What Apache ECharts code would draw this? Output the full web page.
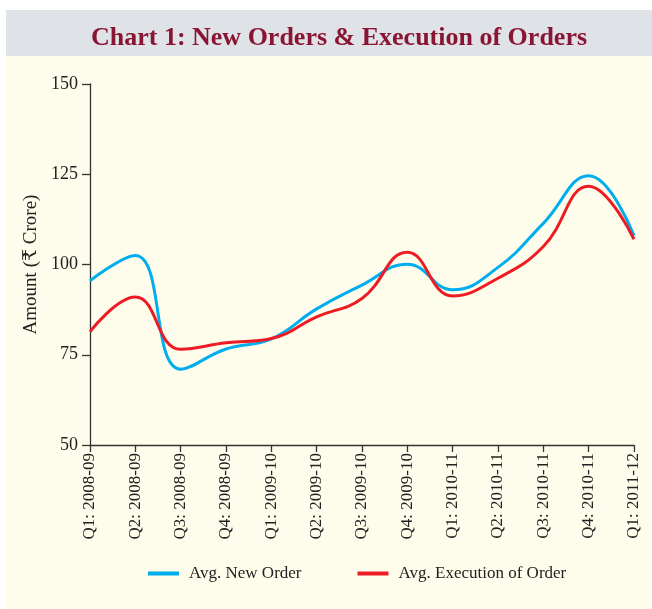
<!DOCTYPE html>
<html>
<head>
<meta charset="utf-8">
<script src="https://cdn.jsdelivr.net/npm/echarts@6/dist/echarts.min.js"></script>
<style>
  html, body { margin: 0; padding: 0; background: #fff; }
  #chart { width: 652px; height: 609px; }
</style>
</head>
<body>
<div id="chart"></div>
<script>
// quarters
const categories = [
  'Q1: 2008-09', 'Q2: 2008-09', 'Q3: 2008-09', 'Q4: 2008-09',
  'Q1: 2009-10', 'Q2: 2009-10', 'Q3: 2009-10', 'Q4: 2009-10',
  'Q1: 2010-11', 'Q2: 2010-11', 'Q3: 2010-11', 'Q4: 2010-11',
  'Q1: 2011-12'
]
const newOrder = [95.5, 102.5, 71, 76.6, 79.4, 87.7, 94.3, 100.1, 93, 99.2, 111.4, 124.6, 108]
const execOrder = [81.4, 91, 76.5, 78.3, 79.5, 85.5, 90.6, 103.4, 91.3, 96.2, 105, 121.7, 107]
const yTicks = { min: 50, max: 150, interval: 25 }

const font = '"Liberation Serif", "DejaVu Serif", serif'
const chart = echarts.init(document.getElementById('chart'))

const option = {
  animation: false,
  backgroundColor: '#fff',
  graphic: [
    { type: 'rect', z: -10, shape: { x: 6, y: 56, width: 646, height: 553 }, style: { fill: '#fefcea' } },
    { type: 'rect', z: -10, shape: { x: 6, y: 10, width: 646, height: 46 }, style: { fill: '#dfe3e8' } },
  ],
  title: {
    text: 'Chart 1: New Orders & Execution of Orders',
    left: 334,
    textAlign: 'center',
    top: 20,
    textStyle: { fontFamily: font, fontSize: 26, fontWeight: 'bold', color: '#8a1533' },
  },
  grid: { left: 90, right: 18, top: 84, bottom: 164 },
  legend: {
    bottom: 22,
    left: 143,
    itemGap: 56,
    itemWidth: 31,
    itemHeight: 4,
    icon: 'rect',
    textStyle: { fontFamily: font, fontSize: 17, color: '#222', padding: [0, 0, 0, 5] },
    data: ['Avg. New Order', 'Avg. Execution of Order'],
  },
  xAxis: {
    type: 'category',
    boundaryGap: false,
    data: categories,
    axisLine: { lineStyle: { color: '#333', width: 1.3 } },
    axisTick: { alignWithLabel: true, length: 7, lineStyle: { color: '#333', width: 1.3 } },
    axisLabel: { rotate: 90, interval: 0, margin: 8, fontFamily: font, fontSize: 17, color: '#222' },
  },
  yAxis: {
    type: 'value',
    min: yTicks.min,
    max: yTicks.max,
    interval: yTicks.interval,
    name: 'Amount (₹ Crore)',
    nameLocation: 'middle',
    nameGap: 47,
    nameTextStyle: { fontFamily: font, fontSize: 19, color: '#222' },
    splitLine: { show: false },
    axisLine: { show: true, lineStyle: { color: '#333', width: 1.3 } },
    axisTick: { show: true, length: 8, lineStyle: { color: '#333', width: 1.3 } },
    axisLabel: { margin: 12, fontFamily: font, fontSize: 18, color: '#222' },
  },
  series: [
    {
      name: 'Avg. New Order',
      type: 'line',
      smooth: 0.45,
      showSymbol: false,
      data: newOrder,
      lineStyle: { color: '#00aeef', width: 3 },
      itemStyle: { color: '#00aeef' },
    },
    {
      name: 'Avg. Execution of Order',
      type: 'line',
      smooth: 0.45,
      showSymbol: false,
      data: execOrder,
      lineStyle: { color: '#ed1c24', width: 3 },
      itemStyle: { color: '#ed1c24' },
    },
  ],
}

chart.setOption(option)
</script>
</body>
</html>
